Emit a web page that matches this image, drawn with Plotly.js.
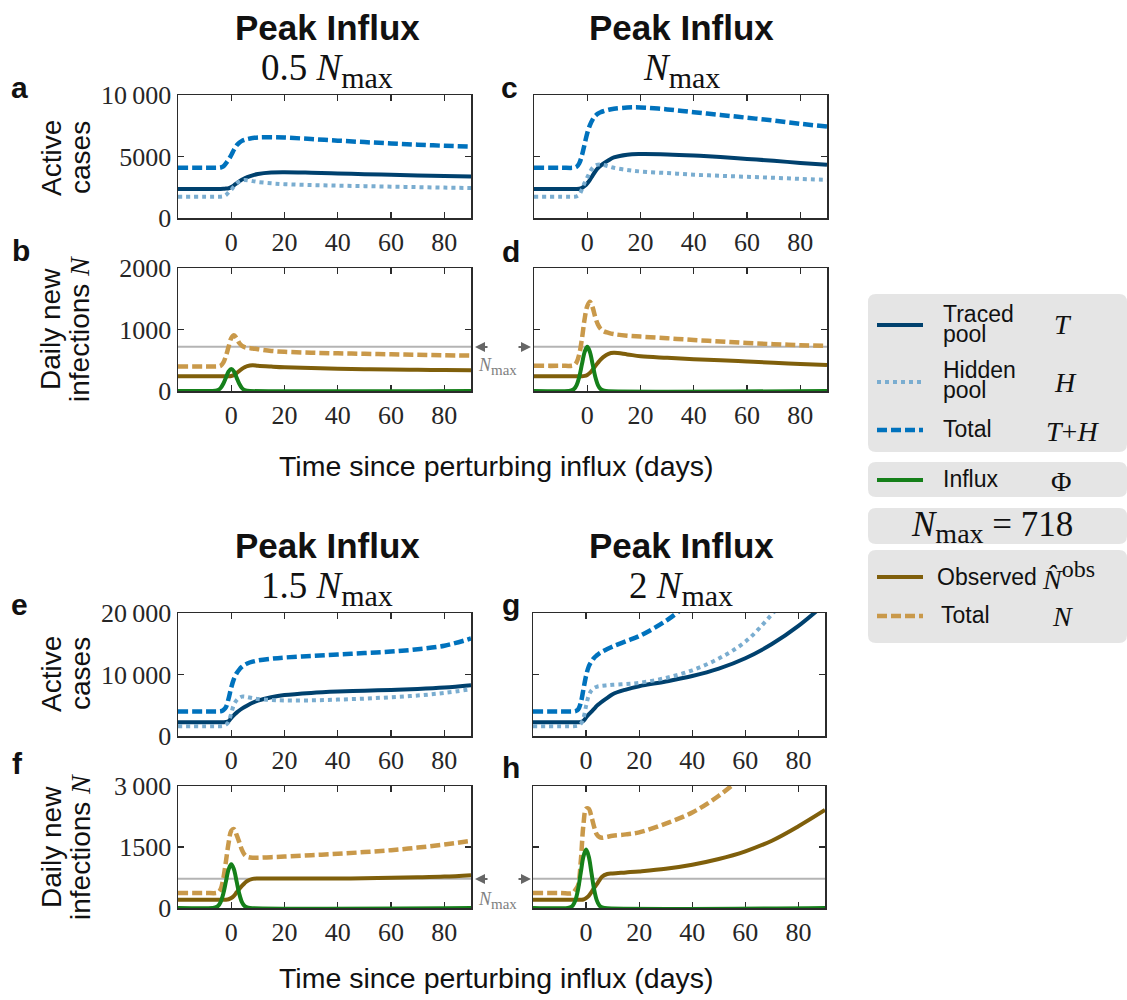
<!DOCTYPE html>
<html><head><meta charset="utf-8">
<script src="https://cdn.plot.ly/plotly-3.0.1.min.js"></script>
<style>html,body{margin:0;padding:0;background:#fff}#plot{width:1127px;height:1000px}</style>
</head><body><div id="plot"></div>
<script>
// ---------------- data ----------------
const NMAX = 718;
const days = [-20,-10,-5,-4,-3,-2,-1,0,1,2,3,4,5,6,8,10,15,20,30,40,50,60,70,80,90];
const phiDays = [-20,-7,-6,-5,-4,-3,-2,-1,0,1,2,3,4,5,6,7,90];

// panel a (0.5 Nmax)
const T_a   = [2360,2360,2360,2360,2370,2390,2420,2520,2660,2820,2980,3120,3230,3330,3470,3580,3700,3720,3680,3620,3560,3510,3460,3410,3370];
const H_a   = [1730,1730,1730,1730,1760,1870,2080,2300,2560,2800,2960,3050,3080,3070,3000,2930,2820,2750,2680,2630,2590,2550,2510,2470,2440];
const TH_a  = [4090,4090,4090,4110,4200,4450,4750,5120,5550,5900,6120,6270,6360,6420,6500,6550,6570,6540,6420,6290,6170,6060,5960,5870,5800];
// panel b
const N_b    = [400,400,400,410,460,570,720,860,905,860,780,735,712,702,692,680,652,638,622,612,604,597,590,582,575];
const Nobs_b = [240,240,240,240,240,240,241,245,258,290,325,360,385,405,420,412,398,386,372,362,355,349,345,341,338];
const Phi_b  = [0,0,4,16,49,117,218,317,359,317,218,117,49,16,4,0,0];

// panel c (Nmax)
const T_c   = [2360,2360,2360,2360,2380,2450,2600,2820,3100,3450,3780,4050,4250,4420,4700,4920,5150,5200,5170,5080,4950,4800,4650,4480,4330];
const H_c   = [1730,1730,1730,1760,1900,2350,2850,3300,3750,4080,4260,4340,4350,4320,4200,4080,3900,3780,3650,3520,3430,3350,3270,3180,3100];
const TH_c  = [4090,4090,4090,4170,4450,5100,6000,6900,7550,8000,8300,8480,8600,8680,8800,8880,8980,8990,8830,8600,8380,8150,7920,7660,7430];
// panel d
const N_d    = [410,410,420,470,600,850,1170,1380,1450,1360,1200,1080,1010,975,945,925,900,885,858,830,805,780,762,745,732];
const Nobs_d = [239,239,239,239,239,239,245,262,295,345,405,460,510,550,605,620,595,565,540,518,500,480,460,440,423];
const Phi_d  = [0,0,8,31,97,233,436,633,718,633,436,233,97,31,8,0,0];

// panel e (1.5 Nmax)
const T_e   = [2250,2250,2250,2250,2250,2270,2400,2950,3400,3800,4150,4450,4700,4950,5400,5750,6300,6650,7000,7220,7370,7500,7650,7880,8250];
const H_e   = [1600,1600,1600,1600,1650,1850,2300,3700,5100,5800,6200,6400,6400,6320,6150,6000,5850,5780,5800,5920,6080,6300,6580,7010,7600];
const TH_e  = [4000,4000,4000,4020,4200,4700,6100,7900,9300,10200,10800,11250,11550,11780,12080,12280,12560,12760,13020,13260,13480,13720,14100,14680,15850];
// panel f
const N_f    = [370,370,380,460,720,1150,1600,1900,1940,1800,1620,1430,1310,1260,1235,1235,1250,1266,1300,1332,1375,1422,1485,1562,1650];
const Nobs_f = [205,205,205,205,205,205,215,245,300,385,470,545,610,665,715,725,725,723,723,725,732,742,755,773,808];
const Phi_f  = [0,0,12,47,146,350,654,950,1077,950,654,350,146,47,12,0,0];

// panel g (2 Nmax)
const T_g   = [2250,2250,2250,2250,2250,2270,2450,3010,3500,3950,4400,4900,5250,5600,6200,6800,7550,8100,8870,9750,10960,12650,14950,17900,21500];
const H_g   = [1600,1600,1600,1620,1700,2000,2900,4900,6600,7400,7800,8000,8100,8150,8250,8330,8450,8650,9430,10690,12600,15340,19800,25000,null];
const TH_g  = [4000,4000,4000,4050,4300,5400,7600,9800,11300,12100,12700,13100,13450,13700,14150,14550,15400,16250,18700,22000,null,null,null,null,null];
// panel h
const N_h    = [370,370,370,450,560,1150,2050,2440,2440,2250,2000,1810,1745,1725,1750,1775,1810,1860,2075,2350,2760,3300,null,null,null];
const Nobs_h = [205,205,205,205,205,205,210,245,300,390,490,580,680,770,835,850,875,900,965,1065,1205,1395,1655,2010,2410];
const Phi_h  = [0,0,16,63,195,466,872,1266,1436,1266,872,466,195,63,16,0,0];

const xTicks = [0,20,40,60,80];
const xTickText = ['0','20','40','60','80'];
const yTicksCases1 = [0,5000,10000], yTextCases1 = ['0','5000','10\u2009000'];
const yTicksN1 = [0,1000,2000], yTextN1 = ['0','1000','2000'];
const yTicksCases2 = [0,10000,20000], yTextCases2 = ['0','10\u2009000','20\u2009000'];
const yTicksN2 = [0,1500,3000], yTextN2 = ['0','1500','3\u2009000'];

// ---------------- styling ----------------
const C = {T:'#00416e', H:'#7aadd0', TH:'#0072bd', phi:'#15801a', obs:'#7f5f0b', N:'#c9994a', nmax:'#b4b4b4'};
const W = 1127, Hh = 1000;
const px = v => v / W, py = v => 1 - v / Hh;
const SERIF = 'Liberation Serif', SANS = 'Liberation Sans';

const panels = {
  a:{n:1, x0:178, x1:471, y0:95,  y1:218, yr:[0,10000], tv:yTicksCases1, tt:yTextCases1, lab:true},
  b:{n:2, x0:178, x1:471, y0:268, y1:391, yr:[0,2000],  tv:yTicksN1,     tt:yTextN1,     lab:true},
  c:{n:3, x0:534, x1:827, y0:95,  y1:218, yr:[0,10000], tv:yTicksCases1, tt:yTextCases1, lab:false},
  d:{n:4, x0:534, x1:827, y0:268, y1:391, yr:[0,2000],  tv:yTicksN1,     tt:yTextN1,     lab:false},
  e:{n:5, x0:178, x1:471, y0:613, y1:736, yr:[0,20000], tv:yTicksCases2, tt:yTextCases2, lab:true},
  f:{n:6, x0:178, x1:471, y0:786, y1:908, yr:[0,3000],  tv:yTicksN2,     tt:yTextN2,     lab:true},
  g:{n:7, x0:533, x1:825, y0:613, y1:736, yr:[0,20000], tv:yTicksCases2, tt:yTextCases2, lab:false},
  h:{n:8, x0:533, x1:825, y0:786, y1:908, yr:[0,3000],  tv:yTicksN2,     tt:yTextN2,     lab:false}
};

const layout = {
  width: W, height: Hh, margin:{l:0,r:0,t:0,b:0},
  paper_bgcolor:'#fff', plot_bgcolor:'#fff', showlegend:false,
  annotations:[], shapes:[]
};
const axisCommon = {
  showline:true, linecolor:'#2b2b2b', linewidth:1.5, mirror:'ticks',
  ticks:'inside', ticklen:6, tickwidth:1.3, tickcolor:'#2b2b2b',
  showgrid:false, zeroline:false, fixedrange:true, layer:'below traces',
  tickfont:{family:SERIF, size:26, color:'#262626'}
};
for (const k in panels) {
  const p = panels[k];
  const s = p.n === 1 ? '' : String(p.n);
  layout['xaxis'+s] = Object.assign({}, axisCommon, {
    domain:[px(p.x0), px(p.x1)], range:[-20,90], anchor:'y'+s,
    tickmode:'array', tickvals:xTicks, ticktext:xTickText
  });
  layout['yaxis'+s] = Object.assign({}, axisCommon, {
    domain:[py(p.y1), py(p.y0)], range:p.yr, anchor:'x'+s,
    tickmode:'array', tickvals:p.tv, ticktext:p.tt, showticklabels:p.lab
  });
}

const traces = [];
function line(k, x, y, color, width, dash, noclip) {
  const s = panels[k].n === 1 ? '' : String(panels[k].n);
  traces.push({type:'scatter', mode:'lines', x:x, y:y, xaxis:'x'+s, yaxis:'y'+s, cliponaxis:!noclip,
    line:{color:color, width:width, dash:dash||'solid', shape:'spline', smoothing:1}, hoverinfo:'skip'});
}
function casesPanel(k, T, Hd, TH) {
  line(k, days, T, C.T, 4);
  line(k, days, Hd, C.H, 4, '4px,4px');
  line(k, days, TH, C.TH, 4.5, '10px,4px');
}
function newPanel(k, N, Nobs, Phi) {
  const s = panels[k].n === 1 ? '' : String(panels[k].n);
  traces.push({type:'scatter', mode:'lines', x:[-20,90], y:[NMAX,NMAX], xaxis:'x'+s, yaxis:'y'+s,
    line:{color:C.nmax, width:2}, hoverinfo:'skip'});
  line(k, days, Nobs, C.obs, 4);
  line(k, days, N, C.N, 4.5, '10px,4px');
  line(k, phiDays, Phi, C.phi, 4, 'solid', true);
}
casesPanel('a', T_a, H_a, TH_a);  newPanel('b', N_b, Nobs_b, Phi_b);
casesPanel('c', T_c, H_c, TH_c);  newPanel('d', N_d, Nobs_d, Phi_d);
casesPanel('e', T_e, H_e, TH_e);  newPanel('f', N_f, Nobs_f, Phi_f);
casesPanel('g', T_g, H_g, TH_g);  newPanel('h', N_h, Nobs_h, Phi_h);

// ---------------- annotations ----------------
const A = layout.annotations;
function txt(x, y, text, size, family, opts) {
  A.push(Object.assign({xref:'paper', yref:'paper', x:px(x), y:py(y), text:text, showarrow:false,
    xanchor:'center', yanchor:'middle', font:{family:family, size:size, color:'#111'}}, opts||{}));
}
const nm = sz => '<i>N</i><sub><span style="font-size:' + sz + 'px">max</span></sub>';
// column titles
txt(327, 27, '<b>Peak Influx</b>', 35, SANS);
txt(681, 27, '<b>Peak Influx</b>', 35, SANS);
txt(327, 70, '0.5 ' + nm(30), 37, SERIF);
txt(681, 70, nm(30), 37, SERIF);
txt(327, 545, '<b>Peak Influx</b>', 35, SANS);
txt(681, 545, '<b>Peak Influx</b>', 35, SANS);
txt(327, 588, '1.5 ' + nm(30), 37, SERIF);
txt(681, 588, '2 ' + nm(30), 37, SERIF);
// panel letters
const letters = [['a',19,88],['b',21,250],['c',510,88],['d',511,251],['e',19,604],['f',17,763],['g',511,604],['h',511,767]];
letters.forEach(l => txt(l[1], l[2], '<b>'+l[0]+'</b>', 30, SANS));
// y titles
const Nit = '<span style="font-family:Liberation Serif"><i>N</i></span>';
[158, 674].forEach(y => {
  txt(51, y, 'Active', 28, SANS, {textangle:-90});
  txt(80, y, 'cases', 28, SANS, {textangle:-90});
});
[329, 847].forEach(y => {
  txt(51, y, 'Daily new', 28, SANS, {textangle:-90});
  txt(80, y, 'infections ' + Nit, 28, SANS, {textangle:-90});
});
// x titles
txt(496, 466, 'Time since perturbing influx (days)', 28.5, SANS);
txt(496, 978, 'Time since perturbing influx (days)', 28.5, SANS);
// Nmax arrows between panels
[[347,366],[879,900]].forEach(r => {
  A.push({xref:'paper', yref:'paper', x:px(475), y:py(r[0]), ax:14, ay:0, text:'', showarrow:true,
    arrowhead:2, arrowsize:1, arrowwidth:2, arrowcolor:'#666'});
  A.push({xref:'paper', yref:'paper', x:px(531), y:py(r[0]), ax:-14, ay:0, text:'', showarrow:true,
    arrowhead:2, arrowsize:1, arrowwidth:2, arrowcolor:'#666'});
  txt(497, r[1], nm(15), 18, SERIF, {font:{family:SERIF, size:18, color:'#808080'}});
});

// ---------------- legend ----------------
function roundRect(x0, y0, x1, y1, r) {
  const rx = r / W, ry = r / Hh;
  const X0 = px(x0), X1 = px(x1), Y0 = py(y0), Y1 = py(y1);
  return `M ${X0+rx},${Y0} L ${X1-rx},${Y0} Q ${X1},${Y0} ${X1},${Y0-ry} L ${X1},${Y1+ry} Q ${X1},${Y1} ${X1-rx},${Y1} ` +
         `L ${X0+rx},${Y1} Q ${X0},${Y1} ${X0},${Y1+ry} L ${X0},${Y0-ry} Q ${X0},${Y0} ${X0+rx},${Y0} Z`;
}
[[868,294,1127,452],[868,462,1127,497],[868,508,1127,544],[868,550,1127,643]].forEach(b => {
  layout.shapes.push({type:'path', xref:'paper', yref:'paper', path:roundRect(b[0],b[1],b[2],b[3],8),
    fillcolor:'#e5e5e5', line:{width:0}, layer:'below'});
});
function legLine(y, color, width, dash) {
  layout.shapes.push({type:'line', xref:'paper', yref:'paper', x0:px(877), x1:px(923), y0:py(y), y1:py(y),
    line:{color:color, width:width, dash:dash||'solid'}});
}
legLine(325, C.T, 4); legLine(382, C.H, 4, '4px,4px'); legLine(430, C.TH, 4.5, '10px,4px');
legLine(480, C.phi, 4); legLine(577, C.obs, 4); legLine(616, C.N, 4.5, '10px,4px');
const L = {xanchor:'left'};
txt(941, 314, 'Traced', 23, SANS, L); txt(941, 334, 'pool', 23, SANS, L);
txt(941, 370, 'Hidden', 23, SANS, L); txt(941, 390, 'pool', 23, SANS, L);
txt(941, 429, 'Total', 23, SANS, L);
txt(941, 479, 'Influx', 23, SANS, L);
txt(935, 577, 'Observed', 23, SANS, L);
txt(939, 615, 'Total', 23, SANS, L);
txt(1052, 325, '<i>T</i>', 28, SERIF, L);
txt(1052, 382, '<i>H</i>', 28, SERIF, L);
txt(1044, 431, '<i>T</i>+<i>H</i>', 28, SERIF, L);
txt(1049, 481, 'Φ', 28, SERIF, L);
txt(1040, 575, '<i>N̂</i><sup><span style="font-size:24px">obs</span></sup>', 28, SERIF, L);
txt(1050, 616, '<i>N</i>', 28, SERIF, L);
txt(992, 527, nm(28) + ' = 718', 35, SERIF);

Plotly.newPlot('plot', traces, layout, {staticPlot:true, displayModeBar:false});
</script></body></html>
